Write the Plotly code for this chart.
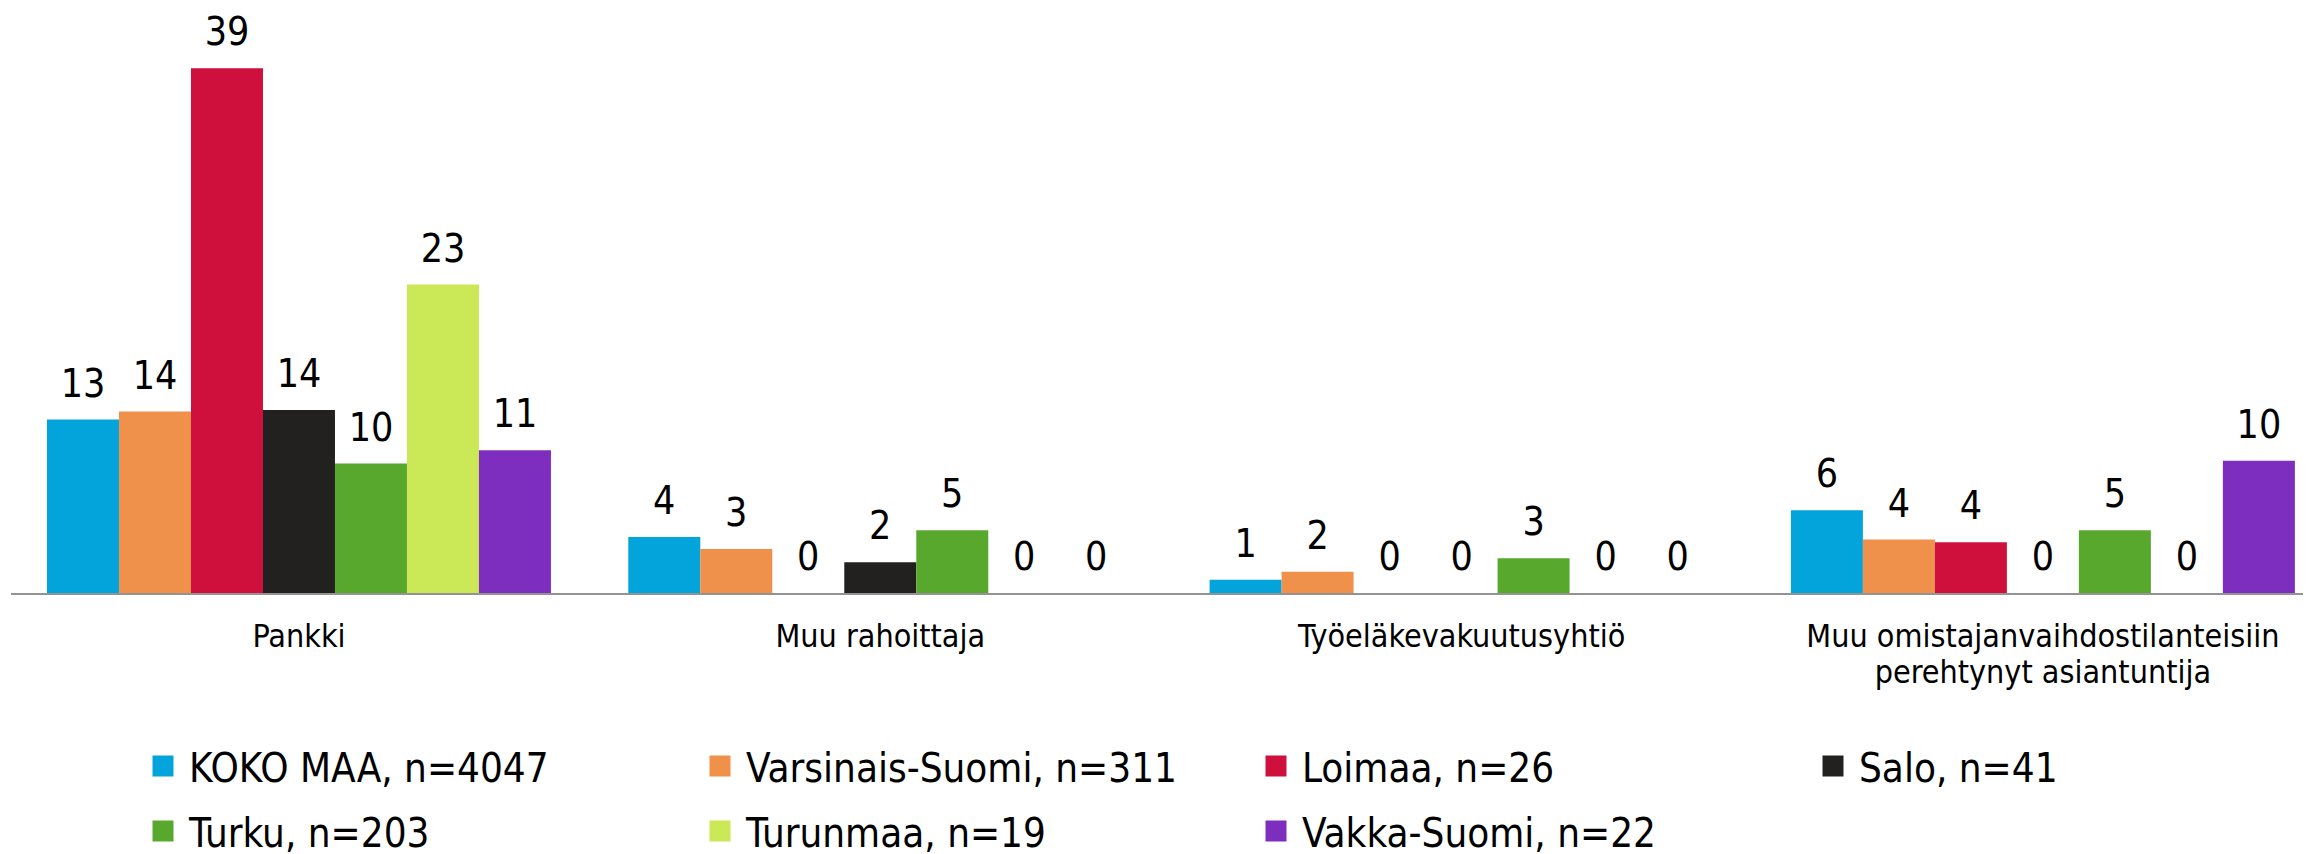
import plotly.graph_objects as go

# ---- data ----
categories = [
    "Pankki",
    "Muu rahoittaja",
    "Työeläkevakuutusyhtiö",
    "Muu omistajanvaihdostilanteisiin<br>perehtynyt asiantuntija",
]
series_names = [
    "KOKO MAA, n=4047",
    "Varsinais-Suomi, n=311",
    "Loimaa, n=26",
    "Salo, n=41",
    "Turku, n=203",
    "Turunmaa, n=19",
    "Vakka-Suomi, n=22",
]
koko_maa = [13.0, 4.2, 1.0, 6.2]
varsinais_suomi = [13.6, 3.3, 1.6, 4.0]
loimaa = [39.3, 0, 0, 3.8]
salo = [13.7, 2.3, 0, 0]
turku = [9.7, 4.7, 2.6, 4.7]
turunmaa = [23.1, 0, 0, 0]
vakka_suomi = [10.7, 0, 0, 9.9]
series_values = [koko_maa, varsinais_suomi, loimaa, salo, turku, turunmaa, vakka_suomi]
colors = ["#03A4DB", "#F0914B", "#CF0F3C", "#222120", "#58A82D", "#CBE857", "#7D2EBF"]

FONT = "DejaVu Sans Condensed, DejaVu Sans, sans-serif"

# legend placement (layout only): left pixel of each entry and its row centre
W, H = 2311, 854
legend_left_px = [129, 686, 1242, 1799, 129, 686, 1242]
legend_row_px = [758, 758, 758, 758, 823, 823, 823]

fig = go.Figure()
for i, (name, vals, col) in enumerate(zip(series_names, series_values, colors)):
    lg = "legend" if i == 0 else f"legend{i + 1}"
    fig.add_trace(go.Bar(
        x=categories, y=vals, name=name,
        marker=dict(color=col, line=dict(width=0)),
        texttemplate="<span style='font-size:39px'>%{y:.0f}</span><br><span style='color:white'>.</span>",
        textposition="outside",
        textfont=dict(size=13, color="black", family=FONT),
        cliponaxis=False,
        showlegend=False, legendgroup=name, hoverinfo="skip",
    ))
    fig.add_trace(go.Scatter(
        x=[None], y=[None], mode="markers", name=name,
        marker=dict(symbol="square", size=16, color=col, line=dict(width=5, color=col)),
        legendgroup=name, showlegend=True, legend=lg,
    ))
    fig.update_layout({lg: dict(
        orientation="h", xref="container", yref="container",
        x=legend_left_px[i] / W, y=1 - legend_row_px[i] / H,
        xanchor="left", yanchor="middle", itemwidth=42,
        font=dict(size=40, color="black", family=FONT),
        bgcolor="rgba(0,0,0,0)", itemclick=False, itemdoubleclick=False,
    )})

ticktext = ["<br>".join(f"<span style='font-size:32px'>{part}</span>" for part in c.split("<br>"))
            for c in categories]

fig.update_layout(
    width=W, height=H,
    margin=dict(l=3, r=0, t=0, b=269, autoexpand=False),
    paper_bgcolor="white", plot_bgcolor="white",
    barmode="group", bargap=0.133, bargroupgap=0,
    xaxis=dict(
        type="category", range=[-0.4954, 3.475],
        tickvals=categories, ticktext=ticktext,
        showline=True, linecolor="#939393", linewidth=2,
        showgrid=False, zeroline=False, ticks="", ticklabelstandoff=20,
        tickfont=dict(size=27, color="black", family=FONT),
    ),
    yaxis=dict(range=[0, 43.82], visible=False, showgrid=False, zeroline=False),
    showlegend=True,
)

fig.write_html("out.html")
